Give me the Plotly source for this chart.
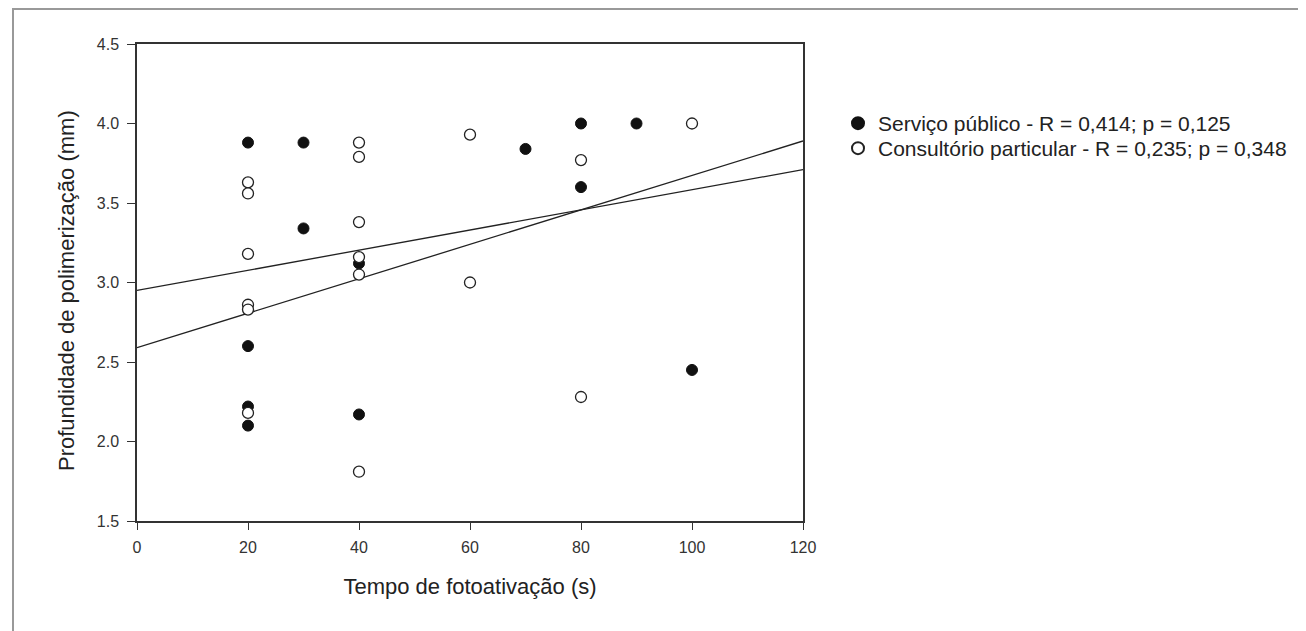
import plotly.graph_objects as go

# Serviço público (filled)
pub_x = [20, 30, 30, 40, 20, 20, 20, 40, 70, 80, 90, 80, 100]
pub_y = [3.88, 3.88, 3.34, 3.12, 2.60, 2.22, 2.10, 2.17, 3.84, 4.00, 4.00, 3.60, 2.45]

# Consultório particular (open)
priv_x = [20, 20, 20, 20, 20, 20, 40, 40, 40, 40, 40, 40, 60, 60, 80, 80, 100]
priv_y = [3.63, 3.56, 3.18, 2.86, 2.83, 2.18, 3.88, 3.79, 3.38, 3.16, 3.05, 1.81, 3.93, 3.00, 3.77, 2.28, 4.00]

# Regression lines (endpoints)
line_x = [0, 120]
line_a_y = [2.59, 3.89]
line_b_y = [2.95, 3.71]

x_ticks = [0, 20, 40, 60, 80, 100, 120]
y_ticks = [1.5, 2.0, 2.5, 3.0, 3.5, 4.0, 4.5]

legend_pub = "Serviço público - R = 0,414; p = 0,125"
legend_priv = "Consultório particular - R = 0,235; p = 0,348"
x_title = "Tempo de fotoativação (s)"
y_title = "Profundidade de polimerização (mm)"

FONT = "Liberation Sans, Arial, sans-serif"

fig = go.Figure()
fig.add_trace(go.Scatter(x=line_x, y=line_a_y, mode="lines",
                         line=dict(color="#222", width=1.3), showlegend=False, hoverinfo="skip"))
fig.add_trace(go.Scatter(x=line_x, y=line_b_y, mode="lines",
                         line=dict(color="#222", width=1.3), showlegend=False, hoverinfo="skip"))
fig.add_trace(go.Scatter(x=pub_x, y=pub_y, mode="markers", name=legend_pub, legend="legend",
                         marker=dict(symbol="circle", size=11, color="#111",
                                     line=dict(color="#111", width=1))))
fig.add_trace(go.Scatter(x=priv_x, y=priv_y, mode="markers", name=legend_priv, legend="legend2",
                         marker=dict(symbol="circle", size=11, color="white",
                                     line=dict(color="#222", width=1.3))))

OFF = 8  # page body margin
W, H = 1306, 631
L, R, T, B = 137 - OFF, 803 - OFF, 44 - OFF, 521 - OFF
pw, ph = R - L, B - T


def px_x(p):
    return (p - OFF - L) / pw


def px_y(p):
    return (B - (p - OFF)) / ph


leg_common = dict(xanchor="left", yanchor="top", font=dict(size=21, color="#222"),
                  bgcolor="rgba(0,0,0,0)", itemsizing="constant")

fig.update_layout(
    width=W, height=H,
    margin=dict(l=L, r=W - R, t=T, b=H - B, pad=0),
    paper_bgcolor="white", plot_bgcolor="white",
    font=dict(family=FONT, size=16, color="#333"),
    xaxis=dict(range=[0, 120], tickvals=x_ticks, ticktext=[str(v) for v in x_ticks],
               showline=True, linecolor="#333", linewidth=1.5, mirror=True,
               ticks="outside", ticklen=7, tickcolor="#333", showgrid=False, zeroline=False,
               tickfont=dict(size=16, color="#333"), ticklabelstandoff=4,
               title=dict(text=x_title, font=dict(size=22, color="#222"), standoff=24)),
    yaxis=dict(range=[1.5, 4.5], tickvals=y_ticks, ticktext=[f"{v:.1f}" for v in y_ticks],
               showline=True, linecolor="#333", linewidth=1.5, mirror=True,
               ticks="outside", ticklen=8, tickcolor="#333", showgrid=False, zeroline=False,
               tickfont=dict(size=16, color="#333"), ticklabelstandoff=5),
    legend=dict(x=px_x(838), y=px_y(103), **leg_common),
    legend2=dict(x=px_x(838), y=px_y(128), **leg_common),
    annotations=[dict(text=y_title, textangle=-90, xref="paper", yref="paper",
                      x=px_x(66), y=px_y(291), xanchor="center", yanchor="middle",
                      showarrow=False, font=dict(size=22, color="#222"))],
    shapes=[dict(type="path", xref="paper", yref="paper",
                 path=f"M {px_x(13)},{px_y(640)} L {px_x(13)},{px_y(9)} L {px_x(1320)},{px_y(9)}",
                 line=dict(color="#999", width=2))],
)

fig.write_html("out.html")
